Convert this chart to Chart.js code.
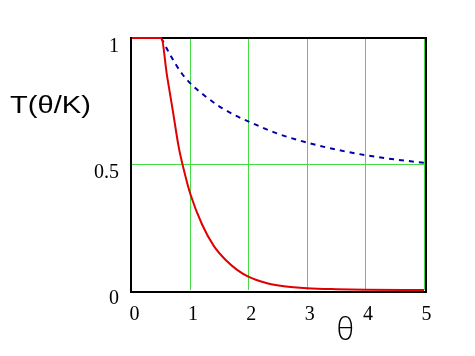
<!DOCTYPE html>
<html><head><meta charset="utf-8">
<script src="https://cdn.jsdelivr.net/npm/chart.js@4.4.1/dist/chart.umd.min.js"></script>
<style>html,body{margin:0;padding:0;background:#fff;}#wrap{width:475px;height:356px;}</style>
</head><body><div id="wrap"><canvas id="c" width="475" height="356"></canvas></div>
<script>
const redTheta = [0, 0.5, 0.6, 0.7, 0.8, 0.9, 1, 1.2, 1.4, 1.6, 1.8, 2, 2.3, 2.6, 3, 3.5, 4, 5];
const redT     = [1, 1, 0.85, 0.71, 0.567, 0.465, 0.38, 0.26, 0.175, 0.12, 0.08, 0.052, 0.028, 0.015, 0.007, 0.003, 0.001, 0];
const blueTheta = [0.5, 0.65, 0.85, 1, 1.25, 1.5, 1.75, 2, 2.5, 3, 3.5, 4, 4.5, 5];
const blueT     = [1, 0.935, 0.86, 0.82, 0.77, 0.728, 0.695, 0.668, 0.62, 0.585, 0.557, 0.535, 0.518, 0.505];
const xTicks = [0, 1, 2, 3, 4, 5];
const yTicks = [0, 0.5, 1];
const yAxisLabel = 'T(θ/K)';
const xAxisLabel = 'θ';

const pts = (xs, ys) => xs.map((x, i) => ({x: x, y: ys[i]}));
const GREEN = '#44dd44';
const gridColor = c => (c.tick && c.tick.value === 0) ? 'rgba(0,0,0,0)' : GREEN;

function fitText(ctx, text, font, x0, y0, x1, y1) {
  ctx.save();
  ctx.font = font;
  const m = ctx.measureText(text);
  const w = m.actualBoundingBoxLeft + m.actualBoundingBoxRight;
  const h = m.actualBoundingBoxAscent + m.actualBoundingBoxDescent;
  ctx.translate(x0, y0);
  ctx.scale((x1 - x0) / w, (y1 - y0) / h);
  ctx.textBaseline = 'alphabetic';
  ctx.textAlign = 'left';
  ctx.fillStyle = '#000';
  ctx.fillText(text, m.actualBoundingBoxLeft, m.actualBoundingBoxAscent);
  ctx.restore();
}

const framePlugin = {
  id: 'frame',
  beforeDatasetsDraw(chart) {
    const {ctx, chartArea: a} = chart;
    ctx.save();
    ctx.strokeStyle = '#000';
    ctx.lineWidth = 2;
    ctx.beginPath();
    ctx.moveTo(a.left - 1, a.top); ctx.lineTo(a.right + 2, a.top);
    ctx.moveTo(a.left - 1, a.bottom + 2); ctx.lineTo(a.right + 2, a.bottom + 2);
    ctx.moveTo(a.left - 1, a.top - 1); ctx.lineTo(a.left - 1, a.bottom + 3);
    ctx.moveTo(a.right + 2, a.top - 1); ctx.lineTo(a.right + 2, a.bottom + 3);
    ctx.stroke();
    ctx.restore();
  },
  afterDraw(chart) {
    const ctx = chart.ctx;
    fitText(ctx, yAxisLabel, '23px "Liberation Sans"', 10, 95, 90, 118);
    fitText(ctx, xAxisLabel, '300 24px "Open Sans"', 338, 316, 353, 340);
  }
};

new Chart(document.getElementById('c'), {
  type: 'line',
  data: {
    datasets: [
      {data: pts(redTheta, redT), borderColor: '#e00000', borderWidth: 2, pointRadius: 0, cubicInterpolationMode: 'monotone', fill: false, clip: 4},
      {data: pts(blueTheta, blueT), borderColor: '#0000a8', borderWidth: 2, borderDash: [5, 5], pointRadius: 0, cubicInterpolationMode: 'monotone', fill: false}
    ]
  },
  options: {
    responsive: false, animation: false, devicePixelRatio: 1,
    layout: {padding: {top: 38, right: 51, left: 0, bottom: 0}},
    plugins: {legend: {display: false}, tooltip: {enabled: false}},
    scales: {
      x: {
        type: 'linear', min: 0, max: 5,
        afterBuildTicks: s => { s.ticks = xTicks.map(v => ({value: v})); },
        afterFit: s => { s.height = 66; },
        ticks: {font: {family: 'Liberation Serif', size: 20}, color: '#000', padding: 13, labelOffset: 2.5, maxRotation: 0, autoSkip: false, callback: v => String(v)},
        grid: {color: gridColor, lineWidth: 1, drawTicks: false},
        border: {display: false}
      },
      y: {
        type: 'linear', min: 0, max: 1,
        afterBuildTicks: s => { s.ticks = yTicks.map(v => ({value: v})); },
        afterFit: s => { s.width = 132; },
        ticks: {font: {family: 'Liberation Serif', size: 20}, color: '#000', padding: 13, labelOffset: 8.5, autoSkip: false, callback: v => String(v)},
        grid: {color: gridColor, lineWidth: 1, drawTicks: false},
        border: {display: false}
      }
    }
  },
  plugins: [framePlugin]
});
</script>
</body></html>
